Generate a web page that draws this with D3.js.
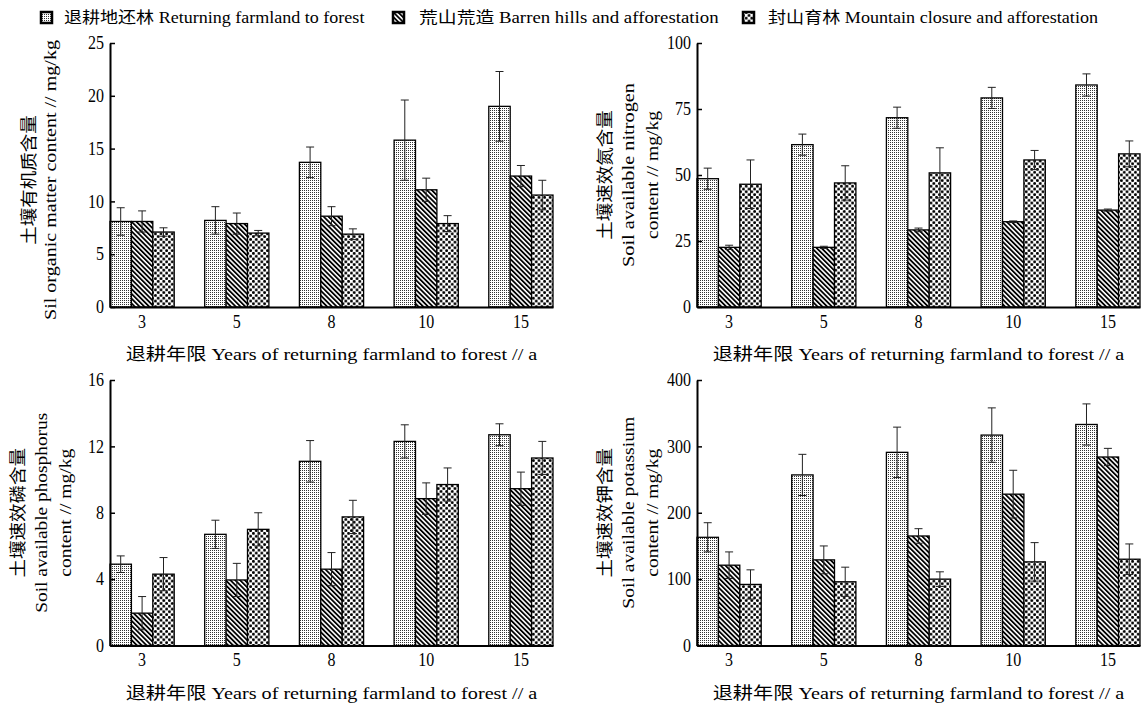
<!DOCTYPE html>
<html>
<head>
<meta charset="utf-8">
<script src="https://cdnjs.cloudflare.com/ajax/libs/d3/7.8.5/d3.min.js"></script>
<style>
  body { margin: 0; background: #fff; }
  text { font-family: "Liberation Serif", "Noto Sans CJK SC", serif; fill: #000; }
</style>
</head>
<body>
<svg id="chart" width="1141" height="704"></svg>
<script>
// ---- data ----
const years = ['3', '5', '8', '10', '15'];
const seriesNames = [
  '退耕地还林 Returning farmland to forest',
  '荒山荒造 Barren hills and afforestation',
  '封山育林 Mountain closure and afforestation'
];

// rows = series (returning farmland, barren hills, mountain closure), cols = years
const organicMeans = [
  [8.1, 8.2, 13.7, 15.8, 19.0],
  [8.1, 7.9, 8.6, 11.1, 12.4],
  [7.1, 7.0, 6.9, 7.9, 10.6]
];
const organicErrors = [
  [1.3, 1.3, 1.45, 3.8, 3.3],
  [1.0, 1.0, 0.9, 1.1, 1.0],
  [0.4, 0.25, 0.5, 0.75, 1.4]
];

const nitrogenMeans = [
  [48.6, 61.5, 71.7, 79.2, 84.1],
  [22.6, 22.6, 29.2, 32.3, 36.7],
  [46.5, 47.0, 50.8, 55.7, 58.0]
];
const nitrogenErrors = [
  [4.0, 4.0, 4.0, 4.0, 4.2],
  [0.8, 0.4, 0.7, 0.3, 0.4],
  [9.2, 6.5, 9.5, 3.6, 4.9]
];

const phosphorusMeans = [
  [4.9, 6.7, 11.1, 12.3, 12.7],
  [1.95, 3.95, 4.6, 8.85, 9.45],
  [4.3, 7.0, 7.75, 9.7, 11.3]
];
const phosphorusErrors = [
  [0.5, 0.85, 1.25, 1.0, 0.66],
  [1.0, 1.0, 1.0, 0.95, 1.0],
  [1.0, 1.0, 1.0, 1.0, 1.0]
];

const potassiumMeans = [
  [163, 257, 291, 317, 333],
  [121, 129, 165, 228, 284],
  [92, 96, 100, 126, 130]
];
const potassiumErrors = [
  [22, 31, 38, 41, 31],
  [20, 21, 11, 36, 13],
  [22, 22, 11, 29, 23]
];

const organicTicks = [0, 5, 10, 15, 20, 25];
const nitrogenTicks = [0, 25, 50, 75, 100];
const phosphorusTicks = [0, 4, 8, 12, 16];
const potassiumTicks = [0, 100, 200, 300, 400];

const xTitle = '退耕年限 Years of returning farmland to forest // a';

// width of a label in the original's half-width / full-width font
function fitWidth(str, half, full) {
  let w = 0;
  for (const ch of str) w += /[\u3000-\u9fff]/.test(ch) ? full : half;
  return w;
}

const svg = d3.select('#chart');

// fill patterns for the three series
const defs = svg.append('defs');
let p0 = defs.append('pattern').attr('id', 'pat0')
    .attr('patternUnits', 'userSpaceOnUse').attr('width', 2).attr('height', 2);
p0.append('rect').attr('width', 2).attr('height', 2).attr('fill', '#fff');
p0.append('rect').attr('width', 1).attr('height', 1).attr('fill', '#333');

let p1 = defs.append('pattern').attr('id', 'pat1')
    .attr('patternUnits', 'userSpaceOnUse').attr('width', 3.4).attr('height', 10)
    .attr('patternTransform', 'rotate(-45)');
p1.append('rect').attr('width', 3.4).attr('height', 10).attr('fill', '#fff');
p1.append('rect').attr('width', 1.8).attr('height', 10).attr('fill', '#000');

let p2 = defs.append('pattern').attr('id', 'pat2')
    .attr('patternUnits', 'userSpaceOnUse').attr('width', 5.6).attr('height', 5.6);
p2.append('rect').attr('width', 5.6).attr('height', 5.6).attr('fill', '#fff');
p2.append('circle').attr('cx', 1.4).attr('cy', 1.4).attr('r', 1.45).attr('fill', '#000');
p2.append('circle').attr('cx', 4.2).attr('cy', 4.2).attr('r', 1.45).attr('fill', '#000');


class BarPanel {

  constructor(_config, _means, _errors) {
    this.config = {
      left: _config.left,
      right: _config.right,
      top: _config.top,
      bottom: _config.bottom,
      yMax: _config.yMax,
      yTicks: _config.yTicks,
      yTitle: _config.yTitle,
      yTitleCenter: _config.yTitleCenter
    };
    this.means = _means;
    this.errors = _errors;
    this.initVis();
  }

  initVis() {
    let vis = this;
    let c = vis.config;

    vis.xScale = d3.scaleBand()
        .domain(years)
        .range([c.left, c.right])
        .paddingInner(0.322)
        .paddingOuter(0);

    vis.seriesScale = d3.scaleBand()
        .domain([0, 1, 2])
        .range([0, vis.xScale.bandwidth()]);

    vis.yScale = d3.scaleLinear()
        .domain([0, c.yMax])
        .range([c.bottom, c.top]);

    vis.chart = svg.append('g');

    vis.updateVis();
  }

  updateVis() {
    let vis = this;
    vis.barData = [];
    years.forEach((yr, i) => {
      vis.means.forEach((row, s) => {
        vis.barData.push({year: yr, series: s, mean: row[i], err: vis.errors[s][i]});
      });
    });
    vis.renderVis();
  }

  renderVis() {
    let vis = this;
    let c = vis.config;
    const barX = d => vis.xScale(d.year) + vis.seriesScale(d.series);
    const mid = d => barX(d) + vis.seriesScale.bandwidth() / 2;

    vis.chart.selectAll('.bar')
        .data(vis.barData)
      .join('rect')
        .attr('class', 'bar')
        .attr('x', barX)
        .attr('y', d => vis.yScale(d.mean))
        .attr('width', vis.seriesScale.bandwidth())
        .attr('height', d => vis.yScale(0) - vis.yScale(d.mean))
        .attr('fill', d => `url(#pat${d.series})`)
        .attr('stroke', '#000')
        .attr('stroke-width', 1.3);

    // error bars with caps at both ends
    let err = vis.chart.selectAll('.err')
        .data(vis.barData)
      .join('g')
        .attr('class', 'err')
        .attr('stroke', '#222')
        .attr('stroke-width', 1);
    err.append('line')
        .attr('x1', mid).attr('x2', mid)
        .attr('y1', d => vis.yScale(d.mean - d.err))
        .attr('y2', d => vis.yScale(d.mean + d.err));
    err.append('line')
        .attr('x1', d => mid(d) - 4).attr('x2', d => mid(d) + 4)
        .attr('y1', d => vis.yScale(d.mean + d.err))
        .attr('y2', d => vis.yScale(d.mean + d.err));
    err.append('line')
        .attr('x1', d => mid(d) - 4).attr('x2', d => mid(d) + 4)
        .attr('y1', d => vis.yScale(d.mean - d.err))
        .attr('y2', d => vis.yScale(d.mean - d.err));

    // axes
    let xAxisG = vis.chart.append('g')
        .attr('transform', `translate(0,${c.bottom})`)
        .call(d3.axisBottom(vis.xScale).tickSize(0).tickSizeOuter(0).tickPadding(8));
    let yAxisG = vis.chart.append('g')
        .attr('transform', `translate(${c.left},0)`)
        .call(d3.axisLeft(vis.yScale).tickValues(c.yTicks).tickSize(-5).tickSizeOuter(0).tickPadding(6));

    [xAxisG, yAxisG].forEach(g => {
      g.select('.domain').attr('stroke', '#000').attr('stroke-width', 2);
      g.selectAll('.tick line').attr('stroke', '#000').attr('stroke-width', 1.5);
      g.selectAll('.tick text')
          .attr('font-family', '"Liberation Serif", serif')
          .attr('font-size', 18)
          .attr('fill', '#000')
          .attr('textLength', d => String(d).length * 8)
          .attr('lengthAdjust', 'spacingAndGlyphs');
    });

    // x-axis title
    vis.chart.append('text')
        .attr('x', (c.left + c.right) / 2)
        .attr('y', c.bottom + 53)
        .attr('text-anchor', 'middle')
        .attr('font-size', 17)
        .attr('textLength', fitWidth(xTitle, 7.9, 18))
        .attr('lengthAdjust', 'spacingAndGlyphs')
        .text(xTitle);

    // y-axis title, one text per line
    let cy = c.yTitleCenter || (c.top + c.bottom) / 2;
    c.yTitle.forEach(line => {
      vis.chart.append('text')
          .attr('transform', `translate(${c.left + line.dx},${cy}) rotate(-90)`)
          .attr('text-anchor', 'middle')
          .attr('dominant-baseline', 'central')
          .attr('font-size', 17)
          .attr('textLength', fitWidth(line.text, 8, 18.5))
          .attr('lengthAdjust', 'spacingAndGlyphs')
          .text(line.text);
    });
  }
}

new BarPanel({
  left: 110, right: 553, top: 43, bottom: 307, yMax: 25, yTicks: organicTicks,
  yTitleCenter: 180,
  yTitle: [
    {text: '土壤有机质含量', dx: -81},
    {text: 'Sil organic matter content // mg/kg', dx: -60}
  ]
}, organicMeans, organicErrors);

new BarPanel({
  left: 697, right: 1140, top: 43, bottom: 307, yMax: 100, yTicks: nitrogenTicks,
  yTitle: [
    {text: '土壤速效氮含量', dx: -92},
    {text: 'Soil available nitrogen', dx: -69},
    {text: 'content // mg/kg', dx: -45}
  ]
}, nitrogenMeans, nitrogenErrors);

new BarPanel({
  left: 110, right: 553, top: 380, bottom: 645.5, yMax: 16, yTicks: phosphorusTicks,
  yTitle: [
    {text: '土壤速效磷含量', dx: -92},
    {text: 'Soil available phosphorus', dx: -69},
    {text: 'content // mg/kg', dx: -45}
  ]
}, phosphorusMeans, phosphorusErrors);

new BarPanel({
  left: 697, right: 1140, top: 380, bottom: 645.5, yMax: 400, yTicks: potassiumTicks,
  yTitle: [
    {text: '土壤速效钾含量', dx: -92},
    {text: 'Soil available potassium', dx: -69},
    {text: 'content // mg/kg', dx: -45}
  ]
}, potassiumMeans, potassiumErrors);

// legend across the top
const legendX = [41, 393, 743];
const legendTextX = [64, 419, 768];
let legend = svg.append('g').attr('class', 'legend');
seriesNames.forEach((name, i) => {
  legend.append('rect')
      .attr('x', legendX[i]).attr('y', 12)
      .attr('width', 11).attr('height', 11)
      .attr('fill', `url(#pat${i})`)
      .attr('stroke', '#000').attr('stroke-width', 2.5);
  legend.append('text')
      .attr('x', legendTextX[i]).attr('y', 23)
      .attr('font-size', 16)
      .attr('textLength', fitWidth(name, 7.6, 16))
      .attr('lengthAdjust', 'spacingAndGlyphs')
      .text(name);
});
</script>
</body>
</html>
